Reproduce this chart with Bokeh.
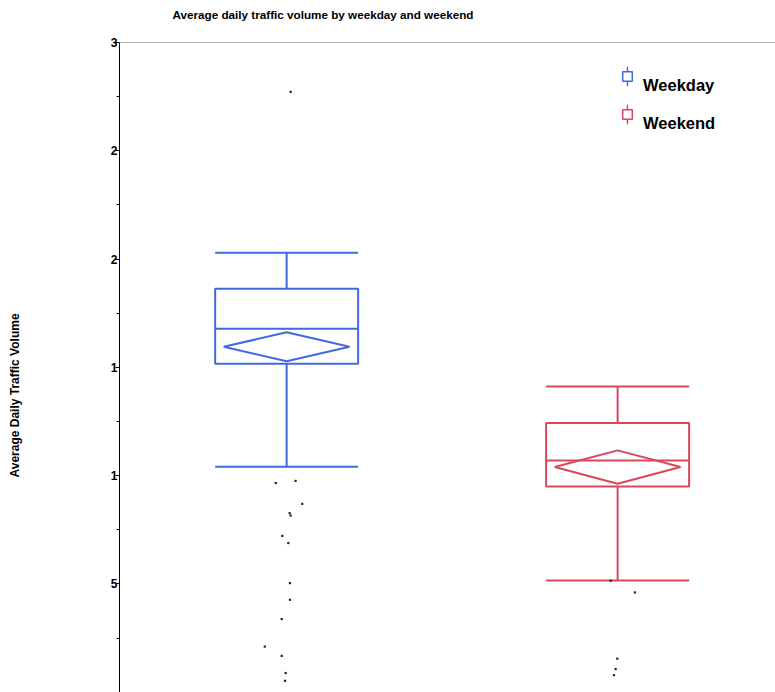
import numpy as np
from bokeh.plotting import figure
from bokeh.models import Range1d, FixedTicker, Span, Title, Legend, LegendItem
from bokeh.embed import file_html
from bokeh.resources import INLINE

# ---- data ----
groups = ["Weekday", "Weekend"]
group_pos = [1, 2]
colors = ["#4169e1", "#d9485a"]

upper_whisker = [20290, 14120]
q3 = [18630, 12430]
median = [16780, 10700]
mean = [15950, 10400]
mean_ci = [670, 770]
q1 = [15170, 9500]
lower_whisker = [10410, 5160]

weekday_outliers = [27720, 9760, 9660, 8700, 8270, 8160, 7220, 6890, 5040, 4270, 3380, 2110, 1680, 890, 530]
weekday_jitter = [0.012, 0.027, -0.033, 0.047, 0.009, 0.012, -0.013, 0.005, 0.010, 0.010, -0.015, -0.066, -0.015, -0.003, -0.005]
weekend_outliers = [5150, 4610, 1550, 1070, 790]
weekend_jitter = [-0.021, 0.052, -0.001, -0.006, -0.011]

y_ticks = [5000, 10000, 15000, 20000, 25000, 30000]
y_tick_labels = ["5", "1", "1", "2", "2", "3"]
y_minor_ticks = [2500, 7500, 12500, 17500, 22500, 27500]

title_text = "Average daily traffic volume by weekday and weekend"
y_label = "Average Daily Traffic Volume"

FONT = "Liberation Sans"
box_w = 0.432
diamond_w = 0.38

p = figure(width=775, height=692, output_backend="svg", toolbar_location=None,
           x_range=Range1d(0.495, 2.477), y_range=Range1d(-10, 30000),
           min_border_left=119, min_border_right=0, min_border_top=42, min_border_bottom=0)
p.outline_line_color = None
p.xaxis.visible = False
p.xgrid.visible = False
p.ygrid.visible = False

ax = p.yaxis[0]
ax.ticker = FixedTicker(ticks=y_ticks, minor_ticks=y_minor_ticks)
ax.major_label_overrides = {t: l for t, l in zip(y_ticks, y_tick_labels)}
ax.axis_line_color = "black"
ax.major_tick_in = 0
ax.major_tick_out = 4
ax.minor_tick_in = 0
ax.minor_tick_out = 3
ax.major_label_standoff = -2
ax.major_label_text_font = FONT
ax.major_label_text_font_style = "bold"
ax.major_label_text_font_size = "12px"
ax.major_label_text_color = "black"

# spacing panels so the title / axis title sit where the reference has them
p.add_layout(Title(text=" ", text_font_size="1px", standoff=18), "above")
p.title.text = title_text
p.title.align = "left"
p.title.offset = 53
p.title.standoff = 0
p.title.vertical_align = "middle"
p.title.text_font = FONT
p.title.text_font_size = "11.7px"
p.title.text_font_style = "bold"
p.title.text_color = "black"

p.add_layout(Title(text=" ", text_font_size="1px", standoff=82), "left")
p.add_layout(Title(text=y_label, align="left", offset=215, standoff=0, vertical_align="middle",
                   text_font=FONT, text_font_size="12px", text_font_style="bold",
                   text_color="black"), "left")

p.add_layout(Span(location=30000, dimension="width", line_color="#666666", line_width=1))

for i, x in enumerate(group_pos):
    c = colors[i]
    p.segment(x0=[x, x], y0=[q3[i], q1[i]], x1=[x, x], y1=[upper_whisker[i], lower_whisker[i]],
              line_color=c, line_width=2)
    p.segment(x0=[x - box_w / 2] * 2, x1=[x + box_w / 2] * 2,
              y0=[upper_whisker[i], lower_whisker[i]], y1=[upper_whisker[i], lower_whisker[i]],
              line_color=c, line_width=2)
    p.quad(left=[x - box_w / 2], right=[x + box_w / 2], top=[q3[i]], bottom=[q1[i]],
           fill_color="white", line_color=c, line_width=2)
    p.segment(x0=[x - box_w / 2], x1=[x + box_w / 2], y0=[median[i]], y1=[median[i]],
              line_color=c, line_width=2)
    p.patch(x=[x - diamond_w / 2, x, x + diamond_w / 2, x],
            y=[mean[i], mean[i] + mean_ci[i], mean[i], mean[i] - mean_ci[i]],
            fill_color=None, line_color=c, line_width=2)

p.scatter(x=[group_pos[0] + j for j in weekday_jitter], y=weekday_outliers,
          marker="square", size=2.2, fill_color="#222222", line_color=None)
p.scatter(x=[group_pos[1] + j for j in weekend_jitter], y=weekend_outliers,
          marker="square", size=2.2, fill_color="#222222", line_color=None)

# legend glyphs (no visible data, only used for the box-and-whisker legend icons)
items = []
for i, g in enumerate(groups):
    c = colors[i]
    r_line = p.ellipse(x=[np.nan], y=[np.nan], width=[0.1], height=[20],
                       width_units="screen", height_units="screen",
                       fill_color=c, line_color=c, line_width=1.5)
    r_sq = p.scatter(x=[np.nan], y=[np.nan], marker="square", fill_color="white",
                     line_color=c, line_width=1.5)
    # the label sits a little below its icon in the reference
    items.append(LegendItem(label="\n" + g, renderers=[r_line, r_sq]))

leg = Legend(items=items, location=(496, 559), glyph_width=24, glyph_height=24,
             label_standoff=4, spacing=0, padding=10, border_line_color=None,
             background_fill_alpha=0, label_text_font=FONT, label_text_font_size="16.5px",
             label_text_font_style="bold", label_text_color="black",
             label_text_baseline="middle", label_text_line_height=0.95)
p.add_layout(leg, "center")

open("out.html", "w").write(file_html(p, INLINE))
